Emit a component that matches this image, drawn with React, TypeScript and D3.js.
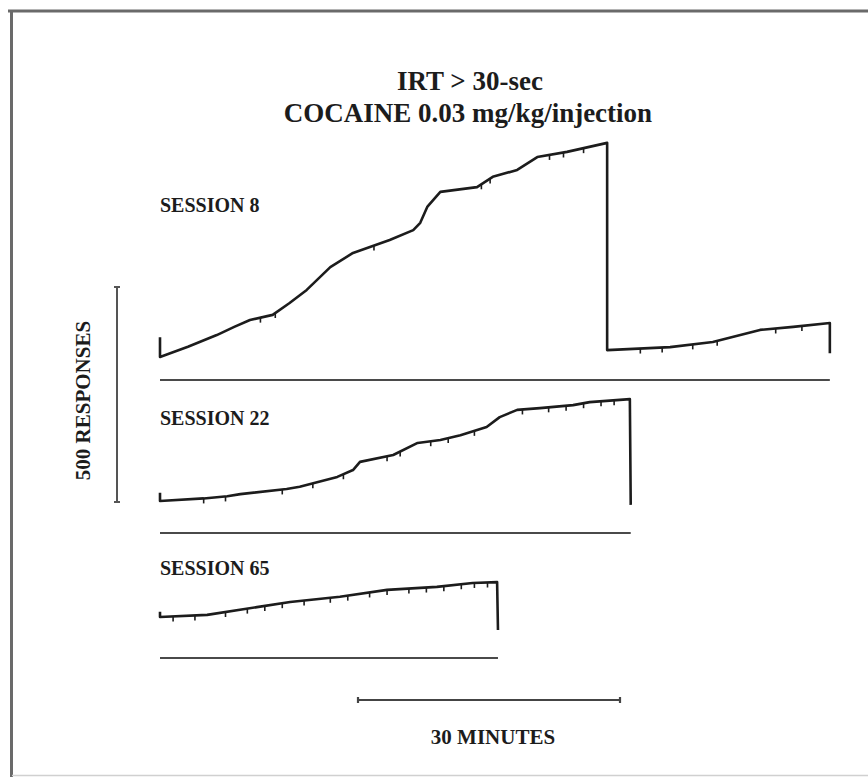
import React from "react";
import * as d3 from "d3";

const TITLE_LINES = ["IRT > 30-sec", "COCAINE 0.03 mg/kg/injection"];
const SESSION_LABELS = ["SESSION 8", "SESSION 22", "SESSION 65"];
const Y_SCALE_LABEL = "500 RESPONSES";
const X_SCALE_LABEL = "30 MINUTES";
const SCALE_RESPONSES = 500;
const SCALE_MINUTES = 30;

// Cumulative records: [minutes, pen position in responses]
const session8: [number, number][] = [
  [0, 46], [0, 0], [3.2, 24], [6.5, 51], [8.5, 70], [10.3, 86], [12.9, 98],
  [14.8, 125], [16.8, 156], [19.5, 209], [22.1, 242], [26.3, 272],
  [29.0, 295], [29.8, 312], [30.6, 349], [32.1, 384], [36.3, 395],
  [38.1, 419], [40.9, 435], [43.2, 465], [46.6, 477], [51.2, 498],
  [51.2, 16], [58.4, 23], [63.3, 35], [68.7, 63], [72.5, 70], [76.7, 79], [76.7, 9],
];
const session22: [number, number][] = [
  [0, 19], [0, 0], [5.0, 6], [7.7, 11], [9.2, 16], [14.5, 28], [16.0, 33], [20.3, 56],
  [22.1, 72], [22.9, 91], [26.7, 107], [29.5, 135], [32.1, 142], [34.4, 153],
  [37.4, 172], [38.9, 195], [40.9, 212], [43.5, 216], [47.3, 223], [49.2, 230],
  [53.8, 237], [53.9, -9],
];
const session65: [number, number][] = [
  [0, 12], [0, 0], [5.4, 5], [11.1, 23], [14.9, 35], [20.6, 47], [26.0, 63],
  [31.7, 70], [35.8, 79], [38.6, 81], [38.7, -30],
];
// injection pips (minutes)
const pips8 = [11.5, 13.2, 24.5, 36.8, 37.8, 44.6, 46.2, 48.5, 55.0, 57.5, 61.0, 63.8, 70.5, 73.5];
const pips22 = [5.0, 7.5, 14.0, 17.5, 21.0, 26.0, 27.5, 31.0, 33.0, 36.0, 41.5, 44.5, 46.5, 48.5, 50.5, 52.0];
const pips65 = [1.5, 4.0, 7.5, 10.0, 12.0, 14.0, 16.5, 19.5, 21.5, 24.0, 26.0, 28.5, 30.5, 32.5, 34.5, 36.0, 37.5];

const SESSIONS = [
  { label: SESSION_LABELS[0], data: session8, pips: pips8 },
  { label: SESSION_LABELS[1], data: session22, pips: pips22 },
  { label: SESSION_LABELS[2], data: session65, pips: pips65 },
];

// layout
const W = 868, H = 777;
const X0 = 160;
const ROWS = [
  { labelY: 212, zeroY: 357, eventY: 380 },
  { labelY: 425, zeroY: 501, eventY: 533 },
  { labelY: 575, zeroY: 617, eventY: 658 },
];
const FONT = "'Liberation Serif', 'DejaVu Serif', serif";
const INK = "#1c1c1c";

const xLen = d3.scaleLinear().domain([0, SCALE_MINUTES]).range([0, 262]);
const yLen = d3.scaleLinear().domain([0, SCALE_RESPONSES]).range([0, 215]);

function interp(data: [number, number][], t: number): number {
  for (let i = 1; i < data.length; i++) {
    const [t0, v0] = data[i - 1];
    const [t1, v1] = data[i];
    if (t1 > t0 && t >= t0 && t <= t1) {
      return v0 + ((v1 - v0) * (t - t0)) / (t1 - t0);
    }
  }
  return data[data.length - 1][1];
}

export default function App() {
  return (
    <svg
      width={W}
      height={H}
      style={{ position: "absolute", left: 0, top: 0, background: "#fff" }}
    >
      {/* frame */}
      <line x1={8} x2={W} y1={11} y2={11} stroke="#6a6a6a" strokeWidth={3} />
      <line x1={11.5} x2={11.5} y1={10} y2={H} stroke="#6a6a6a" strokeWidth={3} />
      <line x1={12} x2={W} y1={775.5} y2={775.5} stroke="#d0d0d0" strokeWidth={1.5} />

      {/* titles */}
      <text x={470} y={90} textAnchor="middle" fontFamily={FONT} fontWeight="bold" fontSize={27} fill={INK}>
        {TITLE_LINES[0]}
      </text>
      <text x={468} y={122} textAnchor="middle" fontFamily={FONT} fontWeight="bold" fontSize={27} fill={INK}>
        {TITLE_LINES[1]}
      </text>

      {SESSIONS.map((s, i) => {
        const row = ROWS[i];
        const x = (t: number) => X0 + xLen(t);
        const y = (v: number) => row.zeroY - yLen(v);
        const line = d3.line<[number, number]>().x((d) => x(d[0])).y((d) => y(d[1]));
        const tEnd = s.data[s.data.length - 1][0];
        return (
          <g key={s.label}>
            <text x={X0} y={row.labelY} fontFamily={FONT} fontWeight="bold" fontSize={20} fill={INK}>
              {s.label}
            </text>
            <path d={line(s.data) || ""} fill="none" stroke={INK} strokeWidth={2.6} strokeLinejoin="round" />
            {s.pips.map((t, k) => {
              const py = y(interp(s.data, t));
              return <line key={k} x1={x(t)} x2={x(t)} y1={py} y2={py + 5} stroke={INK} strokeWidth={1.6} />;
            })}
            <line x1={x(0)} x2={x(tEnd)} y1={row.eventY} y2={row.eventY} stroke="#4a4a4a" strokeWidth={2} />
          </g>
        );
      })}

      {/* response scale bar */}
      <g stroke="#555" strokeWidth={2}>
        <line x1={117} x2={117} y1={502} y2={502 - yLen(SCALE_RESPONSES)} />
        <line x1={114} x2={120} y1={502} y2={502} />
        <line x1={114} x2={120} y1={502 - yLen(SCALE_RESPONSES)} y2={502 - yLen(SCALE_RESPONSES)} />
      </g>
      <text
        transform={`translate(90, ${502 - yLen(SCALE_RESPONSES) / 2 + 6}) rotate(-90)`}
        textAnchor="middle"
        fontFamily={FONT}
        fontWeight="bold"
        fontSize={21}
        fill={INK}
      >
        {Y_SCALE_LABEL}
      </text>

      {/* time scale bar */}
      <g stroke="#444" strokeWidth={2.2}>
        <line x1={358} x2={358 + xLen(SCALE_MINUTES)} y1={700} y2={700} />
        <line x1={358} x2={358} y1={697} y2={703} />
        <line x1={358 + xLen(SCALE_MINUTES)} x2={358 + xLen(SCALE_MINUTES)} y1={697} y2={703} />
      </g>
      <text x={493} y={744} textAnchor="middle" fontFamily={FONT} fontWeight="bold" fontSize={21} fill={INK}>
        {X_SCALE_LABEL}
      </text>
    </svg>
  );
}
